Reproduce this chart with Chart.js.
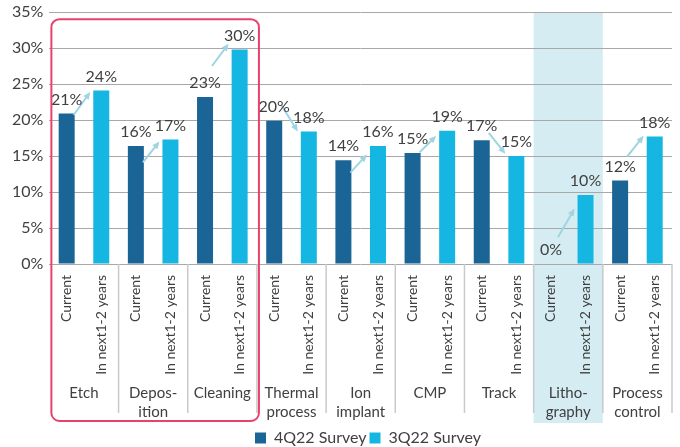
<!DOCTYPE html>
<html>
<head>
<meta charset="utf-8">
<script src="https://cdn.jsdelivr.net/npm/chart.js@4/dist/chart.umd.min.js"></script>
<style>
  html, body { margin: 0; padding: 0; background: #fff; }
  #wrap { width: 680px; height: 447px; }
</style>
</head>
<body>
<div id="wrap"><canvas id="chart"></canvas></div>
<script>
// process steps (group labels) and the two bars inside each group
const groups = ['Etch', ['Depos-', 'ition'], 'Cleaning', ['Thermal', 'process'], ['Ion', 'implant'],
  'CMP', 'Track', ['Litho-', 'graphy'], ['Process', 'control']];
const periods = ['Current', 'In next1-2 years'];

// values in %
const survey4Q22 = [20.9, 16.4, 23.2, 19.9, 14.4, 15.4, 17.2, 0, 11.6];
const survey3Q22 = [24.1, 17.3, 29.8, 18.4, 16.4, 18.5, 15.0, 9.6, 17.7];

const yTicks = [0, 5, 10, 15, 20, 25, 30, 35];

// arrow start / end levels (%) per group
const arrowFrom = [20.7, 14.1, 27.5, 22.1, 12.7, 15.5, 18.2, 3.7, 14.9];
const arrowTo = [23.9, 17.0, 30.6, 18.4, 15.2, 17.8, 15.3, 7.7, 17.8];

const DARK = '#1b6596';
const LIGHT = '#16b6e2';
const TEXT = '#404040';
const FONT = 'Lato, "Open Sans", sans-serif';

const subLabels = [];
const darkData = [];
const lightData = [];
groups.forEach((g, i) => {
  subLabels.push(periods[0], periods[1]);
  darkData.push(survey4Q22[i], null);
  lightData.push(null, survey3Q22[i]);
});

function drawArrow(ctx, x1, y1, x2, y2) {
  const a = Math.atan2(y2 - y1, x2 - x1);
  const h = 8;
  ctx.beginPath();
  ctx.moveTo(x1, y1);
  ctx.lineTo(x2 - Math.cos(a) * h * 0.7, y2 - Math.sin(a) * h * 0.7);
  ctx.stroke();
  ctx.beginPath();
  ctx.moveTo(x2, y2);
  ctx.lineTo(x2 - h * Math.cos(a - 0.42), y2 - h * Math.sin(a - 0.42));
  ctx.lineTo(x2 - h * Math.cos(a + 0.42), y2 - h * Math.sin(a + 0.42));
  ctx.closePath();
  ctx.fill();
}

const decorations = {
  id: 'decorations',
  afterLayout(chart) {
    // legend sits a little right of the canvas centre, close to the bottom
    const lg = chart.legend;
    lg.left += 29; lg.right += 29;
    lg.top += 9; lg.bottom += 9;
  },
  beforeDraw(chart) {
    // lithography highlight band
    const { ctx, chartArea } = chart;
    const w = chartArea.width / groups.length;
    ctx.save();
    ctx.fillStyle = '#d5edf2';
    ctx.fillRect(chartArea.left + 7 * w, chartArea.top, w, chartArea.bottom + 159 - chartArea.top);
    ctx.restore();
  },
  afterDatasetsDraw(chart) {
    const { ctx, scales } = chart;
    const x = scales.x, y = scales.y;
    ctx.save();
    // arrows
    ctx.strokeStyle = '#9fd4e2';
    ctx.fillStyle = '#9fd4e2';
    ctx.lineWidth = 2;
    groups.forEach((g, i) => {
      const x1 = x.getPixelForValue(2 * i) + 7;
      const x2 = x.getPixelForValue(2 * i + 1) - 11;
      drawArrow(ctx, x1, y.getPixelForValue(arrowFrom[i]), x2, y.getPixelForValue(arrowTo[i]));
    });
    // value labels
    ctx.fillStyle = TEXT;
    ctx.font = '16px ' + FONT;
    ctx.textAlign = 'center';
    ctx.textBaseline = 'middle';
    chart.data.datasets.forEach((ds, di) => {
      chart.getDatasetMeta(di).data.forEach((bar, j) => {
        const v = ds.data[j];
        if (v === null) return;
        ctx.fillText(Math.round(v) + '%', bar.x, bar.y - 14);
      });
    });
    ctx.restore();
  },
  afterDraw(chart) {
    const { ctx, chartArea, scales } = chart;
    const w = chartArea.width / groups.length;
    const base = chartArea.bottom;
    ctx.save();
    // group labels under the rotated period labels
    ctx.fillStyle = TEXT;
    ctx.font = '15px ' + FONT;
    ctx.textAlign = 'center';
    ctx.textBaseline = 'middle';
    groups.forEach((g, i) => {
      const lines = Array.isArray(g) ? g : [g];
      const cx = chartArea.left + (i + 0.5) * w;
      lines.forEach((t, k) => ctx.fillText(t, cx, base + 129 + k * 19));
    });
    // group separators
    ctx.strokeStyle = '#c9c9c9';
    ctx.lineWidth = 1.5;
    for (let i = 1; i <= groups.length; i++) {
      const px = chartArea.left + i * w;
      ctx.beginPath();
      ctx.moveTo(px, base);
      ctx.lineTo(px, base + 149);
      ctx.stroke();
    }
    // highlight box around the first three groups
    const left = chartArea.left + 2;
    const right = chartArea.left + 3 * w + 2;
    const top = scales.y.getPixelForValue(34);
    const bot = base + 157;
    ctx.strokeStyle = '#e8416a';
    ctx.lineWidth = 2;
    ctx.beginPath();
    ctx.roundRect(left, top, right - left, bot - top, 8);
    ctx.stroke();
    ctx.restore();
  }
};

new Chart(document.getElementById('chart'), {
  type: 'bar',
  data: {
    labels: subLabels,
    datasets: [
      { label: '4Q22 Survey', data: darkData, backgroundColor: DARK },
      { label: '3Q22 Survey', data: lightData, backgroundColor: LIGHT }
    ]
  },
  options: {
    responsive: true,
    maintainAspectRatio: false,
    animation: false,
    layout: { autoPadding: false, padding: { top: 12, right: 8, bottom: 0, left: 6 } },
    datasets: { bar: { grouped: false, barThickness: 16, inflateAmount: 0 } },
    scales: {
      y: {
        min: 0,
        max: 35,
        grace: 0,
        afterBuildTicks: (axis) => { axis.ticks = yTicks.map(v => ({ value: v })); },
        afterFit: (axis) => { axis.paddingTop = 0; axis.paddingBottom = 0; },
        ticks: { callback: v => v + '%', color: TEXT, font: { family: FONT, size: 16 }, padding: 6 },
        grid: { color: '#a8a8a8', lineWidth: 1, drawTicks: false },
        border: { display: false }
      },
      x: {
        afterFit: (axis) => { axis.height = 154; },
        ticks: {
          color: TEXT, font: { family: FONT, size: 14 },
          minRotation: 90, maxRotation: 90, autoSkip: false, padding: 3
        },
        grid: { display: false },
        border: { display: false }
      }
    },
    plugins: {
      legend: {
        position: 'bottom',
        labels: { boxWidth: 11, boxHeight: 11, color: TEXT, font: { family: FONT, size: 16 }, padding: 3 }
      },
      tooltip: { enabled: false }
    }
  },
  plugins: [decorations]
});
</script>
</body>
</html>
